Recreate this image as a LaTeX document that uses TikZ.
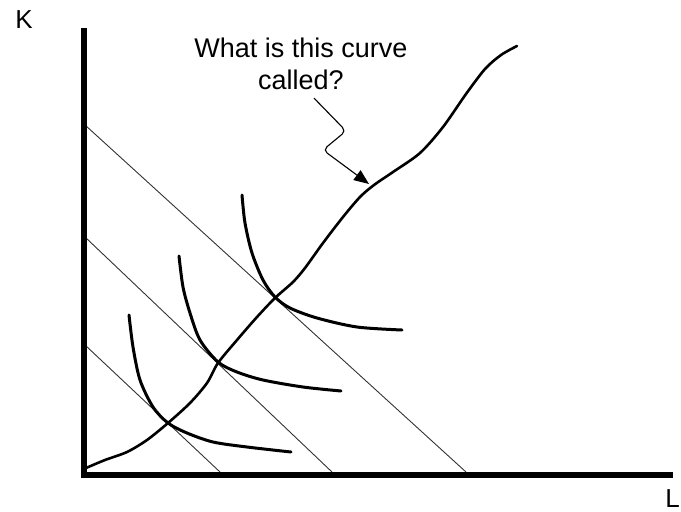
\documentclass[tikz,border=0pt]{standalone}
\usepackage{fontspec}
\setmainfont{Liberation Sans}
\usetikzlibrary{arrows.meta}

\begin{document}
\begin{tikzpicture}[
  x=1pt,y=-1pt,
  axis/.style={line width=6pt,line join=miter},
  budget/.style={line width=0.9pt,black!80},
  isoquant/.style={line width=3pt,line cap=round},
  expansion/.style={line width=2.6pt,line cap=round},
  pointer/.style={-{Triangle[length=15pt,width=12pt]},line width=1.1pt,rounded corners=5pt},
  axis label/.style={inner sep=0pt,font=\fontsize{26}{30}\selectfont},
  question/.style={inner sep=0pt,align=center,font=\fontsize{27}{32}\selectfont}
]
\useasboundingbox (0,0) rectangle (681,512);

% isocost lines
\draw[budget] (85,125) -- (466,472);
\draw[budget] (85,237) -- (332,472);
\draw[budget] (85,345) -- (220,472);

% isoquants
\draw[isoquant] plot[smooth] coordinates {(129,315) (133,347) (140,380) (153,407) (168,423) (187,433) (213,442) (247,447) (291,452)};
\draw[isoquant] plot[smooth] coordinates {(179,256) (183,287) (190,313) (200,340) (218,362) (237,372) (263,380) (303,387) (341,391)};
\draw[isoquant] plot[smooth] coordinates {(242,195) (245,223) (252,253) (263,280) (275,297) (290,308) (317,318) (357,327) (402,330)};

% the path through the tangency points
\draw[expansion] plot[smooth] coordinates {(86,468) (105,460) (127,452) (147,440) (168,423) (190,403) (207,383) (218,363) (237,340) (257,317) (275,298) (293,282) (305,268) (323,243) (343,217) (360,197) (374,185) (393,172) (420,153) (443,127) (466,94) (485,69) (501,55) (517,46)};

% axes
\draw[axis] (84,28) -- (84,475) -- (673,475);
\node[axis label] (k) at (24,20) {K};
\node[axis label,anchor=east] (l) at (680,499) {L};

% question
\node[question] (q) at (301,64) {What is this curve\\called?};
\coordinate (tip) at (369,184);
\draw[pointer] ([xshift=13pt,yshift=-8pt]q.south) -- (346,131) -- (323,150) -- (tip);
\end{tikzpicture}
\end{document}
